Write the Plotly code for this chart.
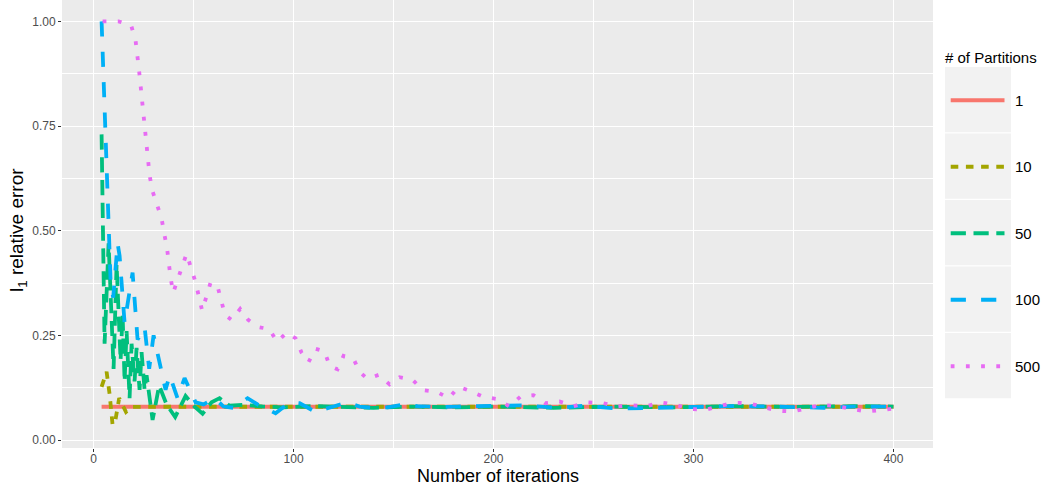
import plotly.graph_objects as go

# ---- l1 relative error versus iteration, one series per partition count ----
iter_p1 = [4, 50, 100, 150, 200, 250, 300, 350, 400]
err_p1 = [0.0795, 0.0795, 0.0795, 0.0795, 0.0795, 0.0795, 0.0795, 0.0795, 0.0795]

iter_p10 = [4, 6.5, 8, 9.5, 11, 12.8, 16.2, 19, 25, 50, 100, 150, 200, 250, 300, 350, 400]
err_p10 = [0.127, 0.163, 0.11, 0.036, 0.05, 0.10, 0.067, 0.079, 0.0795, 0.0795, 0.0795,
           0.0795, 0.0795, 0.0795, 0.0795, 0.0795, 0.0795]

iter_p50 = [4, 5.5, 7.5, 10, 11.5, 13.5, 14.5, 15.5, 16.5, 18, 19, 20.5, 21.5, 23, 24,
            25.5, 26.5, 29.5, 32.8, 36.5, 40.8, 46, 50, 54.5, 59, 63, 68, 75, 85, 95,
            110, 125, 140, 160, 180, 200, 230, 260, 290, 320, 350, 380, 400]
err_p50 = [0.73, 0.23, 0.47, 0.17, 0.42, 0.19, 0.30, 0.14, 0.26, 0.10, 0.23, 0.14, 0.22,
           0.12, 0.21, 0.12, 0.155, 0.048, 0.13, 0.085, 0.055, 0.105, 0.082, 0.063,
           0.09, 0.10, 0.082, 0.084, 0.080, 0.078, 0.081, 0.079, 0.077, 0.080, 0.078,
           0.080, 0.077, 0.080, 0.078, 0.081, 0.079, 0.081, 0.080]

iter_p100 = [4, 8.5, 9.8, 12, 13, 14.5, 15.5, 19.5, 22, 25.5, 27.8, 30, 36, 38, 42,
             45.5, 51, 55, 60.5, 65, 70, 77, 82, 91, 98, 103, 111, 117, 127, 133,
             140, 147, 155, 162, 172, 182, 196, 215, 232, 245, 262, 280, 300, 320,
             340, 365, 380, 392, 400]
err_p100 = [1.0, 0.38, 0.34, 0.47, 0.44, 0.33, 0.28, 0.40, 0.24, 0.27, 0.17, 0.25, 0.12,
            0.155, 0.10, 0.148, 0.09, 0.085, 0.10, 0.08, 0.077, 0.10, 0.085, 0.064,
            0.09, 0.088, 0.067, 0.076, 0.09, 0.08, 0.077, 0.078, 0.085, 0.081, 0.079,
            0.080, 0.081, 0.083, 0.077, 0.082, 0.075, 0.077, 0.078, 0.081, 0.080,
            0.077, 0.080, 0.079, 0.080]

iter_p500 = [4.5, 12.5, 18.8, 21, 22.8, 25, 27, 28, 29.3, 31.8, 34, 35.3, 36.7, 38.5,
             39.8, 46.5, 51, 54.3, 58.5, 62, 65.7, 69, 73.3, 77.3, 82.3, 87.8, 91.8,
             96.7, 101, 104, 107.5, 111, 115.5, 118, 122, 125, 130, 133, 137, 142.7,
             148, 153, 159.5, 164.7, 171.7, 177.7, 182.5, 188.5, 195, 201.8, 208,
             213.5, 220, 226, 233, 240, 247, 255, 262, 269, 276.5, 283.7, 291, 298.4,
             305.7, 313, 320, 327.8, 335, 342, 349.6, 357, 364, 371.6, 379, 386.4,
             394, 400]
err_p500 = [1.0, 1.0, 0.99, 0.954, 0.88, 0.775, 0.70, 0.633, 0.597, 0.564, 0.529, 0.494,
            0.459, 0.388, 0.352, 0.445, 0.377, 0.309, 0.376, 0.367, 0.299, 0.287, 0.313,
            0.287, 0.27, 0.265, 0.235, 0.257, 0.243, 0.209, 0.186, 0.218, 0.212, 0.177,
            0.169, 0.201, 0.194, 0.163, 0.146, 0.156, 0.133, 0.150, 0.144, 0.119, 0.115,
            0.100, 0.127, 0.117, 0.103, 0.098, 0.080, 0.104, 0.107, 0.088, 0.092, 0.081,
            0.090, 0.088, 0.080, 0.083, 0.081, 0.090, 0.084, 0.074, 0.072, 0.081, 0.089,
            0.088, 0.079, 0.070, 0.068, 0.076, 0.084, 0.081, 0.074, 0.068, 0.072, 0.075]

partition_labels = ["1", "10", "50", "100", "500"]
series_iters = [iter_p1, iter_p10, iter_p50, iter_p100, iter_p500]
series_errs = [err_p1, err_p10, err_p50, err_p100, err_p500]

x_ticks = [0, 100, 200, 300, 400]
x_minor = [50, 150, 250, 350]
y_ticks = [0.0, 0.25, 0.5, 0.75, 1.0]
y_tick_text = ["0.00", "0.25", "0.50", "0.75", "1.00"]
y_minor = [0.125, 0.375, 0.625, 0.875]

# ---- styling ----
colors = ["#F8766D", "#A3A500", "#00BF7D", "#00B0F6", "#E76BF3"]
LW = 3.8
dashes = ["solid", "7.6px,7.6px", "15.2px,7.6px", "15.2px,15.2px", "3.8px,11.4px"]
FONT = "Liberation Sans, Arial, Helvetica, sans-serif"

W, H = 1042, 486
PX0, PX1, PY0, PY1 = 62, 933, 0, 448   # plotting panel in pixels


def paper_x(px):
    return (px - PX0) / (PX1 - PX0)


def paper_y(py):
    return (PY1 - py) / (PY1 - PY0)


fig = go.Figure()
for lab, xs, ys, col, dsh in zip(partition_labels, series_iters, series_errs, colors, dashes):
    fig.add_trace(go.Scatter(
        x=xs, y=ys, mode="lines", name=lab,
        line=dict(color=col, width=LW, dash=dsh),
        showlegend=False, hoverinfo="skip",
    ))

axis_common = dict(
    showgrid=True, gridcolor="white", gridwidth=1.1,
    zeroline=False, showline=False,
    ticks="outside", ticklen=3, tickwidth=1, tickcolor="#333333",
    tickfont=dict(family=FONT, size=12, color="#4D4D4D"),
)

fig.update_xaxes(
    range=[-15.8, 419.8], tickmode="array", tickvals=x_ticks,
    minor=dict(tickmode="array", tickvals=x_minor, showgrid=True,
               gridcolor="white", gridwidth=0.55, ticks=""),
    ticklabelstandoff=-3,
    **axis_common,
)
fig.update_yaxes(
    range=[-0.019, 1.051], tickmode="array", tickvals=y_ticks, ticktext=y_tick_text,
    minor=dict(tickmode="array", tickvals=y_minor, showgrid=True,
               gridcolor="white", gridwidth=0.55, ticks=""),
    **axis_common,
)

shapes = []
annotations = []

# axis titles
annotations.append(dict(
    text="Number of iterations", xref="paper", yref="paper",
    x=0.5, y=paper_y(475.5), xanchor="center", yanchor="middle", showarrow=False,
    font=dict(family=FONT, size=18, color="black"),
))
annotations.append(dict(
    text="l<sub>1</sub> relative error", xref="paper", yref="paper",
    x=paper_x(18), y=paper_y(230), xanchor="center", yanchor="middle",
    textangle=-90, showarrow=False,
    font=dict(family=FONT, size=19, color="black"),
))

# legend: title, grey key boxes with line samples, labels
annotations.append(dict(
    text="# of Partitions", xref="paper", yref="paper",
    x=paper_x(943), y=paper_y(57), xanchor="left", yanchor="middle", showarrow=False,
    font=dict(family=FONT, size=15, color="black"),
))
KEY_TOP, KEY_H = 67, 66.5
for i, (lab, col, dsh) in enumerate(zip(partition_labels, colors, dashes)):
    top = KEY_TOP + i * KEY_H
    bot = top + KEY_H - 1.2
    mid = top + KEY_H / 2
    shapes.append(dict(
        type="rect", xref="paper", yref="paper",
        x0=paper_x(945), x1=paper_x(1011), y0=paper_y(bot), y1=paper_y(top),
        fillcolor="#F2F2F2", line=dict(width=0), layer="below",
    ))
    shapes.append(dict(
        type="line", xref="paper", yref="paper",
        x0=paper_x(950.7), x1=paper_x(1004.5), y0=paper_y(mid), y1=paper_y(mid),
        line=dict(color=col, width=LW, dash=dsh),
    ))
    annotations.append(dict(
        text=lab, xref="paper", yref="paper",
        x=paper_x(1013), y=paper_y(mid), xanchor="left", yanchor="middle", showarrow=False,
        font=dict(family=FONT, size=15, color="black"),
    ))

fig.update_layout(
    width=W, height=H,
    margin=dict(l=PX0, r=W - PX1, t=PY0, b=H - PY1, pad=0),
    plot_bgcolor="#EBEBEB", paper_bgcolor="white",
    showlegend=False,
    shapes=shapes, annotations=annotations,
    font=dict(family=FONT),
)

fig.write_html("out.html")
